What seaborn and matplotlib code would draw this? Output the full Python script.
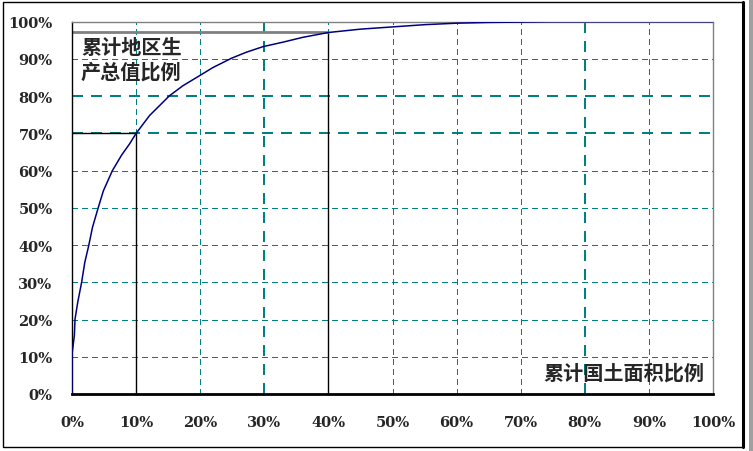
import matplotlib
matplotlib.use("Agg")
import matplotlib.pyplot as plt
import seaborn as sns
import pandas as pd
from matplotlib.patches import Rectangle

# cumulative land area share (%) vs cumulative regional GDP share (%)
land_pct = [0, 0, 0.37, 0.47, 0.89, 1.5, 2.0, 2.6, 3.2, 4.1, 4.9, 6.3, 7.75, 8.95, 10,
            12.1, 15.2, 17.3, 19.9, 22.0, 24.9, 27.2, 29.8, 32.9, 36.0, 40,
            45, 50, 55, 60, 65, 70, 75, 80, 90, 100]
gdp_pct = [0, 10.7, 15.7, 20.1, 24.6, 30, 35.4, 39.8, 44.8, 50.1, 54.6, 60, 64.2, 67.1, 70,
           74.8, 80.1, 82.8, 85.5, 87.7, 90.2, 91.8, 93.3, 94.5, 95.8, 97.1,
           98.0, 98.6, 99.2, 99.6, 99.8, 99.9, 100, 100, 100, 100]
ticks = [0, 10, 20, 30, 40, 50, 60, 70, 80, 90, 100]
tick_labels = [f"{t}%" for t in ticks]
mark_x = [10, 40]
mark_y = [70, 97.1]

df = pd.DataFrame({"land": land_pct, "gdp": gdp_pct})

sns.set_style("white")
plt.rcParams['font.family'] = ['Noto Sans CJK SC', 'DejaVu Sans']

fig = plt.figure(figsize=(7.53, 4.52), dpi=100)
ax = fig.add_axes([72 / 753, 57 / 452, 641 / 753, 372.3 / 452])

teal = "#008080"
for t in ticks[1:-1]:
    lw = 1.5 if t in (30, 80) else 0.8
    ax.axvline(t, color=teal, lw=lw, dashes=(5, 4), zorder=1, antialiased=False)
    lw = 1.5 if t in (70, 80) else 0.8
    ax.axhline(t, color=teal, lw=lw, dashes=(5, 4), zorder=1, antialiased=False)

# reference lines
ax.plot([mark_x[0], mark_x[0]], [0, mark_y[0]], color="black", lw=1, zorder=2)
ax.plot([0, mark_x[0]], [mark_y[0], mark_y[0]], color="black", lw=1, zorder=2)
ax.plot([mark_x[1], mark_x[1]], [0, mark_y[1]], color="black", lw=1, zorder=2)
ax.plot([0, mark_x[1]], [mark_y[1], mark_y[1]], color="#808080", lw=2, zorder=2)

sns.lineplot(data=df, x="land", y="gdp", sort=False, estimator=None,
             color="#000080", lw=1.1, ax=ax, zorder=3)

ax.set_xlim(0, 100)
ax.set_ylim(0, 100)
ax.set_xticks(ticks)
ax.set_yticks(ticks)
tick_font = dict(family="DejaVu Serif", weight="bold", size=10.5)
ax.set_xticklabels(tick_labels, **tick_font)
ax.set_yticklabels(tick_labels, **tick_font)
ax.tick_params(axis="both", direction="in", length=4, width=1, color="black")
ax.tick_params(axis="x", pad=15)
ax.tick_params(axis="y", pad=14)
ax.set_xlabel("")
ax.set_ylabel("")

for side in ["top", "right"]:
    ax.spines[side].set_color("#808080")
    ax.spines[side].set_linewidth(1)
ax.spines["left"].set_color("black")
ax.spines["left"].set_linewidth(1)
ax.spines["bottom"].set_color("black")
ax.spines["bottom"].set_linewidth(2)

ax.text(1.4, 96.2, "累计地区生\n产总值比例", fontsize=14.5, fontweight="bold",
        ha="left", va="top", linespacing=1.2, zorder=4)
ax.text(98.6, 3.0, "累计国土面积比例", fontsize=14.5, fontweight="bold",
        ha="right", va="bottom", zorder=4)

# outer frame
fig.add_artist(Rectangle((3 / 753, 4 / 452), 740 / 753, 445 / 452, transform=fig.transFigure,
                         fill=False, edgecolor="black", lw=1))
fig.add_artist(plt.Line2D([743 / 753, 743 / 753], [4 / 452, 449 / 452], transform=fig.transFigure,
                          color="black", lw=2.2))
fig.add_artist(Rectangle((749 / 753, 0), 4 / 753, 1, transform=fig.transFigure,
                         color="#a0a0a0", lw=0))

fig.savefig("out.png", dpi=100)
